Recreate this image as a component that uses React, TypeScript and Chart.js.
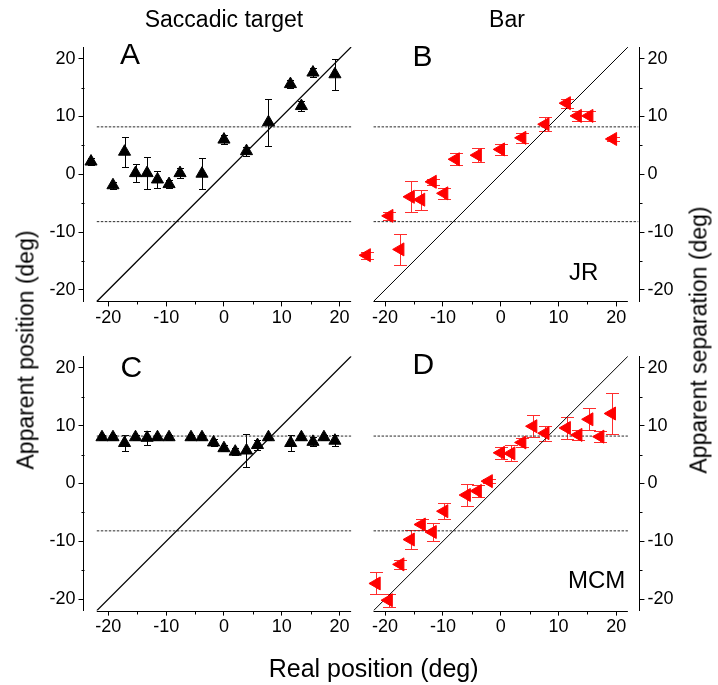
import React, { useEffect, useRef } from 'react';
import { Chart, registerables } from 'chart.js';

Chart.register(...registerables);

const FONT = '"Liberation Sans", Arial, Helvetica, sans-serif';

// ---- data ----
const AXIS_TICKS = [-20, -15, -10, -5, 0, 5, 10, 15, 20];
const AXIS_LINE = [-22, 22];
const DIAG_X = [-22, 22];
const DIAG_Y = [-22, 22];
const REF_LEVEL = 8.2;

// A: Saccadic target, JR
const A_X = [-23, -19.2, -17.2, -15.3, -13.3, -11.5, -9.5, -7.6, -3.8, 0, 3.9, 7.7, 11.5, 13.4, 15.4, 19.2];
const A_Y = [2.2, -1.9, 3.9, 0.2, 0.2, -0.9, -1.7, 0.2, 0.1, 6.0, 4.0, 9.0, 15.6, 11.8, 17.6, 17.3];
const A_ERR = [0.6, 0.6, 2.6, 1.6, 2.8, 1.4, 0.7, 0.9, 2.7, 0.8, 0.8, 4.1, 0.7, 0.8, 0.7, 2.7];

// B: Bar, JR
const B_X = [-23.2, -19.3, -17.4, -15.6, -13.8, -11.8, -9.8, -7.8, -4.0, 0, 3.7, 7.7, 11.4, 13.3, 15.3, 19.4];
const B_Y = [-14.0, -7.2, -13.0, -3.9, -4.4, -1.3, -3.3, 2.6, 3.3, 4.3, 6.3, 8.65, 12.3, 10.1, 10.1, 6.1];
const B_ERR = [0.6, 0.7, 2.7, 2.65, 1.7, 0.5, 1.0, 1.0, 1.2, 1.0, 0.9, 1.2, 0.8, 0.8, 0.8, 0.3];

// C: Saccadic target, MCM
const C_X = [-21.1, -19.2, -17.2, -15.3, -13.3, -11.5, -9.5, -5.7, -3.8, -1.8, 0, 1.95, 3.9, 5.8, 7.7, 11.55, 13.4, 15.4, 17.3, 19.2];
const C_Y = [8.0, 8.0, 7.0, 8.0, 7.9, 8.0, 8.0, 8.0, 8.0, 7.1, 6.1, 5.5, 5.7, 6.65, 8.0, 7.0, 8.0, 7.2, 8.0, 7.4];
const C_ERR = [0.4, 0.4, 1.4, 0.4, 1.2, 0.4, 0.4, 0.4, 0.4, 0.6, 0.5, 0.6, 2.8, 0.8, 0.4, 1.4, 0.4, 0.8, 0.4, 0.9];

// D: Bar, MCM
const D_X = [-21.5, -19.4, -17.4, -15.6, -13.7, -11.8, -9.8, -5.9, -4.0, -2.1, 0, 1.8, 3.7, 5.6, 7.7, 11.4, 13.4, 15.3, 17.2, 19.2];
const D_Y = [-17.3, -20.2, -14.0, -9.7, -7.1, -8.4, -4.8, -2.0, -1.3, 0.4, 5.3, 5.2, 7.1, 9.9, 8.7, 9.6, 8.4, 11.1, 8.1, 12.1];
const D_ERR = [1.9, 1.15, 0.8, 1.6, 1.0, 1.6, 1.4, 1.9, 1.0, 0.4, 1.0, 1.4, 0.8, 1.9, 1.3, 1.9, 0.9, 1.9, 0.9, 3.5];

// ---- layout ----
const W = 718;
const H = 685;
const PX_PER_UNIT = 5.78;
const Y_MIN = -22;
const Y_MAX = 22;
const Y_AXIS_W = 40;
const X_AXIS_H = 30;

type Spec = {
  xs: number[];
  ys: number[];
  errs: number[];
  side: 'left' | 'right';
  xMin: number;
  xMax: number;
  areaLeft: number;
  areaTop: number;
  markerColor: string;
  errColor: string;
  capHalf: number;
  rotation: number;
  radius: number;
  dotEnd: number;
  diagWidth: number;
};

const SPECS: Spec[] = [
  { xs: A_X, ys: A_Y, errs: A_ERR, side: 'left', xMin: -24.3, xMax: 24, areaLeft: 83.5, areaTop: 47.1, markerColor: '#000', errColor: '#000', capHalf: 3.5, rotation: 0, radius: 7, dotEnd: 22, diagWidth: 1.3 },
  { xs: B_X, ys: B_Y, errs: B_ERR, side: 'right', xMin: -24, xMax: 24, areaLeft: 362, areaTop: 47.1, markerColor: '#ff0000', errColor: 'rgb(255,45,45)', capHalf: 6.5, rotation: -90, radius: 7.5, dotEnd: 23.8, diagWidth: 1 },
  { xs: C_X, ys: C_Y, errs: C_ERR, side: 'left', xMin: -24.3, xMax: 24, areaLeft: 83.5, areaTop: 356.3, markerColor: '#000', errColor: '#000', capHalf: 3.5, rotation: 0, radius: 7, dotEnd: 22, diagWidth: 1.3 },
  { xs: D_X, ys: D_Y, errs: D_ERR, side: 'right', xMin: -24, xMax: 24, areaLeft: 362, areaTop: 356.3, markerColor: '#ff0000', errColor: 'rgb(255,45,45)', capHalf: 6.5, rotation: -90, radius: 7.5, dotEnd: 22, diagWidth: 1 },
];

function extrasPlugin(spec: Spec) {
  return {
    id: 'panelExtras',
    beforeDatasetsDraw(chart: any) {
      const { ctx, chartArea, scales } = chart;
      const x = scales.x;
      const y = scales.y;
      ctx.save();
      ctx.lineWidth = 1;
      ctx.strokeStyle = '#000';
      // x axis line
      const yb = Math.round(chartArea.bottom) + 0.5;
      ctx.beginPath();
      ctx.moveTo(x.getPixelForValue(AXIS_LINE[0]), yb);
      ctx.lineTo(x.getPixelForValue(AXIS_LINE[1]), yb);
      ctx.stroke();
      // minor ticks
      const ax = spec.side === 'left' ? Math.round(chartArea.left) + 0.5 : Math.round(chartArea.right) + 0.5;
      const dir = spec.side === 'left' ? -1 : 1;
      ctx.beginPath();
      AXIS_TICKS.filter((v) => v % 10 !== 0).forEach((v) => {
        const px = Math.round(x.getPixelForValue(v)) + 0.5;
        ctx.moveTo(px, yb);
        ctx.lineTo(px, yb + 3);
        const py = Math.round(y.getPixelForValue(v)) + 0.5;
        ctx.moveTo(ax, py);
        ctx.lineTo(ax + dir * 3, py);
      });
      ctx.stroke();
      // error bars
      ctx.strokeStyle = spec.errColor;
      ctx.beginPath();
      spec.xs.forEach((xv, i) => {
        const px = Math.round(x.getPixelForValue(xv)) + 0.5;
        const pt = Math.round(y.getPixelForValue(spec.ys[i] + spec.errs[i])) + 0.5;
        const pb = Math.round(y.getPixelForValue(spec.ys[i] - spec.errs[i])) + 0.5;
        ctx.moveTo(px, pt);
        ctx.lineTo(px, pb);
        ctx.moveTo(px - spec.capHalf, pt);
        ctx.lineTo(px + spec.capHalf, pt);
        ctx.moveTo(px - spec.capHalf, pb);
        ctx.lineTo(px + spec.capHalf, pb);
      });
      ctx.stroke();
      ctx.restore();
    },
  };
}

function Panel({ spec }: { spec: Spec }) {
  const ref = useRef<HTMLCanvasElement | null>(null);
  useEffect(() => {
    if (!ref.current) return;
    const areaW = (spec.xMax - spec.xMin) * PX_PER_UNIT;
    const areaH = (Y_MAX - Y_MIN) * PX_PER_UNIT;
    const padLeft = spec.side === 'left' ? spec.areaLeft - Y_AXIS_W : spec.areaLeft;
    const padRight = spec.side === 'left' ? W - spec.areaLeft - areaW : W - spec.areaLeft - areaW - Y_AXIS_W;
    const padTop = spec.areaTop;
    const padBottom = H - spec.areaTop - areaH - X_AXIS_H;
    const tickColor = (c: any) => (c.tick && c.tick.value % 10 === 0 ? '#000' : 'rgba(0,0,0,0)');
    const label = (v: any) => (Number(v) % 10 === 0 ? String(v) : '');
    const dotted = (level: number) => ({
      data: [{ x: AXIS_LINE[0], y: level }, { x: spec.dotEnd, y: level }],
      showLine: true,
      borderColor: '#2a2a2a',
      borderWidth: 1,
      borderDash: [2.5, 1.5],
      pointRadius: 0,
    });
    const chart = new Chart(ref.current, {
      type: 'scatter',
      data: {
        datasets: [
          {
            data: spec.xs.map((v, i) => ({ x: v, y: spec.ys[i] })),
            pointStyle: 'triangle',
            pointRotation: spec.rotation,
            pointRadius: spec.radius,
            backgroundColor: spec.markerColor,
            borderColor: spec.markerColor,
            borderWidth: 1,
            showLine: false,
            clip: false,
          } as any,
          {
            data: DIAG_X.map((v, i) => ({ x: v, y: DIAG_Y[i] })),
            showLine: true,
            borderColor: '#000',
            borderWidth: spec.diagWidth,
            pointRadius: 0,
          },
          dotted(REF_LEVEL),
          dotted(-REF_LEVEL),
        ],
      },
      options: {
        animation: false,
        responsive: false,
        events: [],
        layout: { padding: { left: padLeft, right: padRight, top: padTop, bottom: padBottom } },
        plugins: { legend: { display: false }, tooltip: { enabled: false } },
        scales: {
          x: {
            type: 'linear',
            position: 'bottom',
            min: spec.xMin,
            max: spec.xMax,
            afterBuildTicks: (s: any) => { s.ticks = AXIS_TICKS.map((v) => ({ value: v })); },
            afterFit: (s: any) => { s.height = X_AXIS_H; },
            grid: { display: true, drawOnChartArea: false, drawTicks: true, tickLength: 5, tickColor, tickWidth: 1 },
            border: { display: false },
            ticks: { color: '#000', font: { family: FONT, size: 18 }, padding: 1, autoSkip: false, maxRotation: 0, callback: label },
          },
          y: {
            type: 'linear',
            position: spec.side,
            min: Y_MIN,
            max: Y_MAX,
            afterBuildTicks: (s: any) => { s.ticks = AXIS_TICKS.map((v) => ({ value: v })); },
            afterFit: (s: any) => { s.width = Y_AXIS_W; },
            grid: { display: true, drawOnChartArea: false, drawTicks: true, tickLength: 5, tickColor, tickWidth: 1 },
            border: { display: true, color: '#000', width: 1 },
            ticks: { color: '#000', font: { family: FONT, size: 18 }, padding: 3, autoSkip: false, callback: label },
          },
        },
      } as any,
      plugins: [extrasPlugin(spec)],
    });
    return () => chart.destroy();
  }, [spec]);
  return <canvas ref={ref} width={W} height={H} style={{ position: 'absolute', left: 0, top: 0, width: W, height: H }} />;
}

function Text({ children, style }: { children: React.ReactNode; style: React.CSSProperties }) {
  return (
    <div style={{ position: 'absolute', fontFamily: FONT, color: '#000', lineHeight: 1, whiteSpace: 'nowrap', ...style }}>
      {children}
    </div>
  );
}

export default function App() {
  return (
    <div style={{ position: 'absolute', left: 0, top: 0, width: W, height: H, background: '#fff', overflow: 'hidden' }}>
      {SPECS.map((s, i) => (
        <Panel key={i} spec={s} />
      ))}
      <Text style={{ left: 224, top: 8, fontSize: 23, transform: 'translateX(-50%)' }}>Saccadic target</Text>
      <Text style={{ left: 507, top: 8, fontSize: 23, transform: 'translateX(-50%)' }}>Bar</Text>
      <Text style={{ left: 120, top: 39, fontSize: 30 }}>A</Text>
      <Text style={{ left: 412.6, top: 41, fontSize: 30 }}>B</Text>
      <Text style={{ left: 120.5, top: 351.5, fontSize: 30 }}>C</Text>
      <Text style={{ left: 412.6, top: 349, fontSize: 30 }}>D</Text>
      <Text style={{ left: 569, top: 260, fontSize: 24 }}>JR</Text>
      <Text style={{ left: 568, top: 567.6, fontSize: 24 }}>MCM</Text>
      <Text style={{ left: 268.7, top: 655.7, fontSize: 25 }}>Real position (deg)</Text>
      <Text style={{ left: 25.5, top: 350, fontSize: 23, transform: 'translate(-50%, -50%) rotate(-90deg)' }}>Apparent position (deg)</Text>
      <Text style={{ left: 699, top: 340, fontSize: 23, transform: 'translate(-50%, -50%) rotate(-90deg)' }}>Apparent separation (deg)</Text>
    </div>
  );
}
